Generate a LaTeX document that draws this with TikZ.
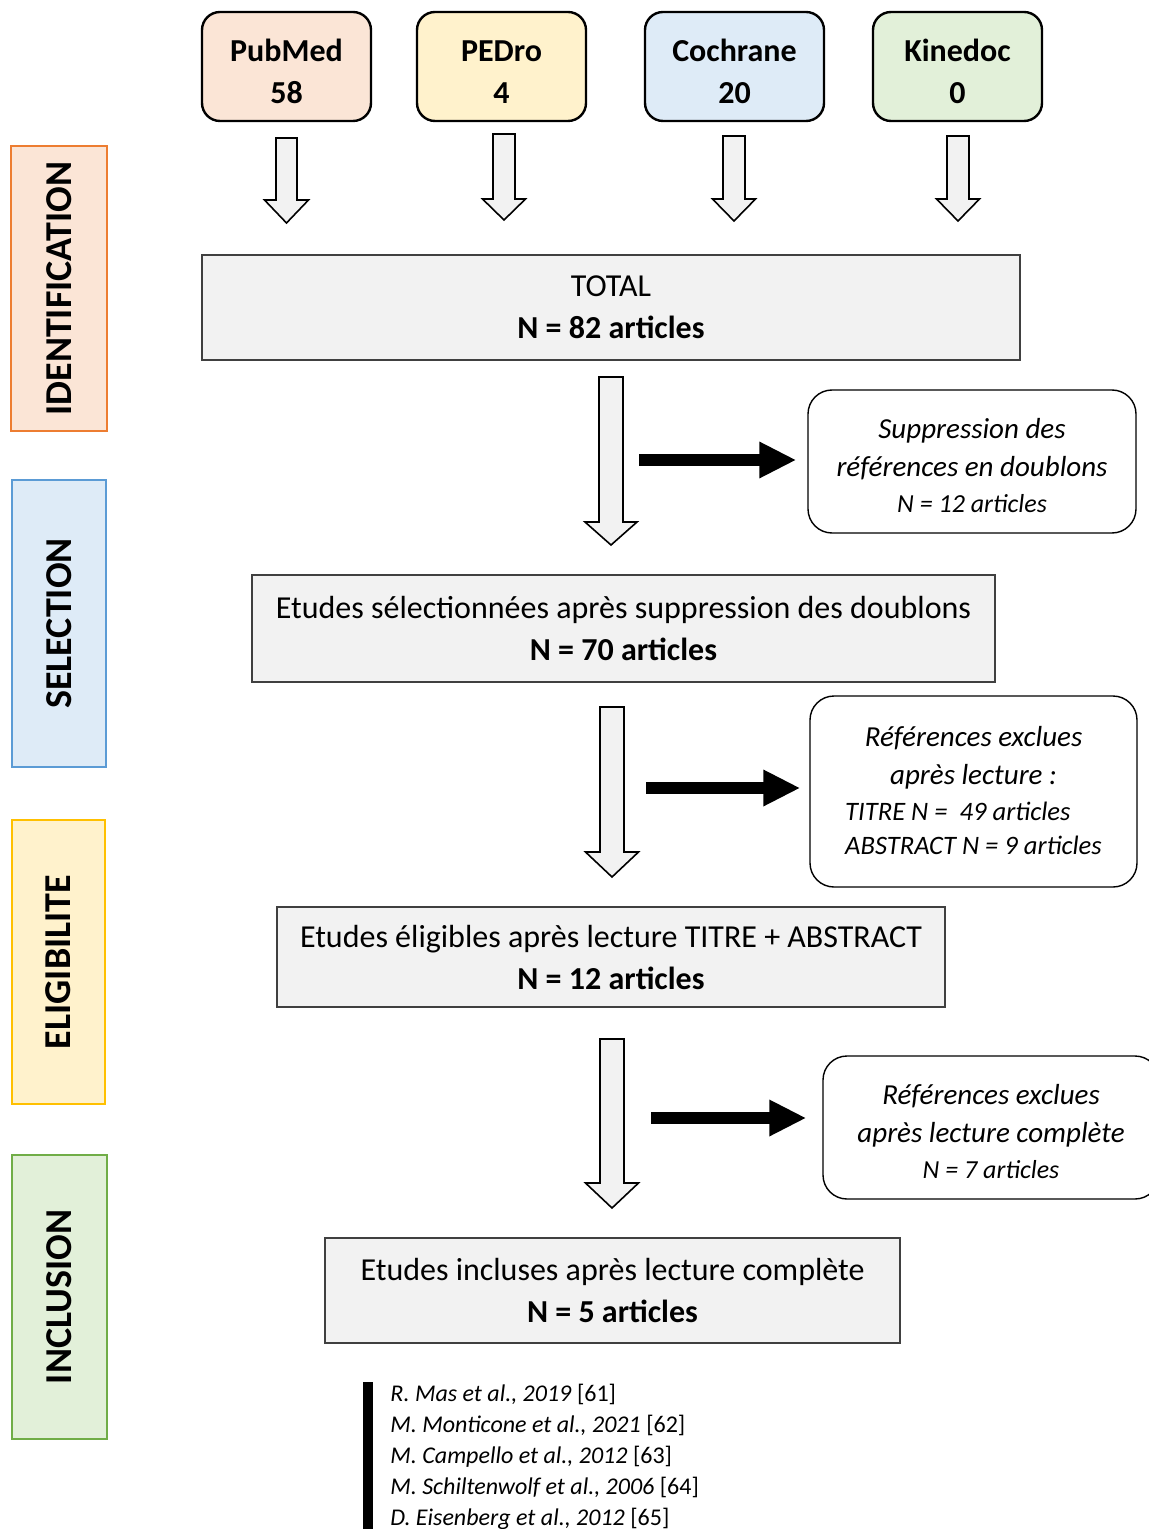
\documentclass[tikz,border=0pt]{standalone}
\usepackage{fontspec}
\setmainfont{Carlito}
\usetikzlibrary{arrows.meta}

\definecolor{pesca}{HTML}{FBE5D6}
\definecolor{arancio}{HTML}{ED7D31}
\definecolor{giallino}{HTML}{FFF2CC}
\definecolor{oro}{HTML}{FFC000}
\definecolor{azzurrino}{HTML}{DEEBF7}
\definecolor{blu}{HTML}{5B9BD5}
\definecolor{verdino}{HTML}{E2F0D9}
\definecolor{verde}{HTML}{70AD47}
\definecolor{grigio}{HTML}{F2F2F2}

\tikzset{
	sorgente/.style={draw=black, line width=1.2pt, rounded corners=9pt, minimum width=84.5pt, minimum height=54.5pt, align=center, font=\fontsize{16}{21}\selectfont\bfseries},
	passo/.style={draw=black!75, line width=0.7pt, fill=grigio, align=center, font=\fontsize{16}{21}\selectfont},
	esclusi/.style={draw=black, line width=0.7pt, rounded corners=12pt, fill=white, align=center, font=\fontsize{14.5}{19}\selectfont\itshape},
	fase/.style={rotate=90, line width=1.2pt, font=\fontsize{19}{19}\selectfont\bfseries},
	blocco/.style={draw=black, line width=0.8pt, fill=grigio, line join=miter},
	nera/.style={line width=6pt, -{Triangle[length=18.5pt,width=17pt]}},
}

% freccia vuota verso il basso: x, y alto, y base punta, y punta, mezzo fusto, mezza punta
\newcommand{\frecciagiu}[6]{\draw[blocco] (#1-#5,#2) -- (#1+#5,#2) -- (#1+#5,#3) -- (#1+#6,#3) -- (#1,#4) -- (#1-#6,#3) -- (#1-#5,#3) -- cycle;}
\newcommand{\alza}[1][16pt]{\rule{0pt}{#1}}

\begin{document}
\begin{tikzpicture}[x=0.5pt, y=-0.5pt]
	\useasboundingbox (0,0) rectangle (1149,1529);

	% fasi
	\node[fase, draw=arancio, fill=pesca, minimum width=142.5pt, minimum height=48pt] (identif) at (59,288.5) {IDENTIFICATION};
	\node[fase, draw=blu, fill=azzurrino, minimum width=143.5pt, minimum height=47pt] (selez) at (59,623.5) {SELECTION};
	\node[fase, draw=oro, fill=giallino, minimum width=142pt, minimum height=46.5pt] (eleg) at (58.5,962) {ELIGIBILITE};
	\node[fase, draw=verde, fill=verdino, minimum width=142pt, minimum height=47.5pt] (inclu) at (59.5,1297) {INCLUSION};

	% banche dati
	\node[sorgente, fill=pesca] (pubmed) at (286.5,66.5) {\alza PubMed\\58};
	\node[sorgente, fill=giallino] (pedro) at (501.5,66.5) {\alza PEDro\\4};
	\node[sorgente, fill=azzurrino, minimum width=89.5pt] (cochrane) at (734.5,66.5) {\alza Cochrane\\20};
	\node[sorgente, fill=verdino] (kinedoc) at (957.5,66.5) {\alza Kinedoc\\0};

	\frecciagiu{286.5}{138}{200}{223}{10.5}{22}
	\frecciagiu{504}{134}{199}{220}{11}{21.5}
	\frecciagiu{734}{136}{199}{221}{11}{21.5}
	\frecciagiu{958}{136}{199}{221}{11}{21.5}

	% passi
	\node[passo, minimum width=409pt, minimum height=52.5pt] (totale) at (611,307.5) {TOTAL\\\textbf{N = 82 articles}};
	\node[passo, minimum width=371.5pt, minimum height=53.5pt] (doublons) at (623.5,628.5) {Etudes sélectionnées après suppression des doublons\\\textbf{N = 70 articles}};
	\node[passo, minimum width=334pt, minimum height=50pt] (eligibili) at (611,957) {Etudes éligibles après lecture TITRE + ABSTRACT\\\textbf{N = 12 articles}};
	\node[passo, minimum width=287.5pt, minimum height=52.5pt] (incluse) at (612.5,1290.5) {Etudes incluses après lecture complète\\\textbf{N = 5 articles}};

	\frecciagiu{611}{377}{522}{545}{12}{26}
	\frecciagiu{612}{707}{852}{877}{12}{26.5}
	\frecciagiu{612}{1039}{1183}{1208}{12}{26.5}

	% esclusioni
	\node[esclusi, minimum width=164pt, minimum height=71.5pt] (suppr) at (972,461.5) {\alza[14pt]Suppression des\\références en doublons\\[-1pt]{\fontsize{13}{17}\selectfont N = 12 articles}};
	\node[esclusi, minimum width=163.5pt, minimum height=95.5pt] (lettura) at (973.5,791.5) {\alza[14pt]Références exclues\\après lecture :\\[-1pt]{\fontsize{13.3}{17}\selectfont\begin{tabular}[t]{@{}l@{}}TITRE N =~ 49 articles\\ABSTRACT N = 9 articles\end{tabular}\hspace{5pt}}};
	\node[esclusi, minimum width=168pt, minimum height=71.5pt] (completa) at (991,1127.5) {\alza[14pt]Références exclues\\après lecture complète\\[-1pt]{\fontsize{13}{17}\selectfont N = 7 articles}};

	\coordinate (p1) at (639,460);
	\coordinate (p2) at (646,788);
	\coordinate (p3) at (651,1118);
	\draw[nera, shorten >=5.5pt] (p1) -- (p1 -| suppr.west);
	\draw[nera, shorten >=4.5pt] (p2) -- (p2 -| lettura.west);
	\draw[nera, shorten >=8pt] (p3) -- (p3 -| completa.west);

	% articoli inclusi
	\node[anchor=north west, inner sep=0pt, align=left, font=\fontsize{12}{15.5}\selectfont] (rif) at (390,1384) {\textit{R. Mas et al., 2019} [61]\\\textit{M. Monticone et al., 2021} [62]\\\textit{M. Campello et al., 2012} [63]\\\textit{M. Schiltenwolf et al., 2006} [64]\\\textit{D. Eisenberg et al., 2012} [65]};
	\draw[line width=5pt] ([xshift=-11pt,yshift=1pt]rif.north west) -- ([xshift=-11pt,yshift=-20pt]rif.south west);
\end{tikzpicture}
\end{document}
